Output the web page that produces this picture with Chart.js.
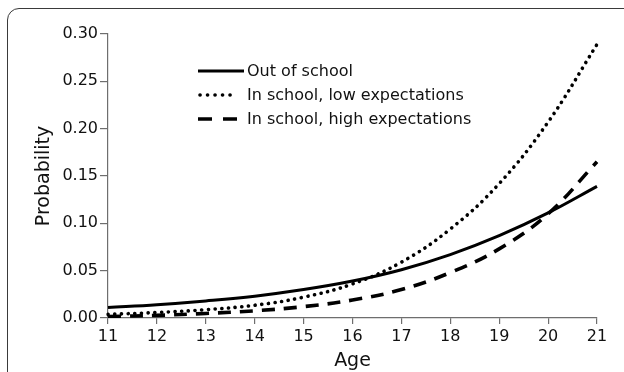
<!DOCTYPE html>
<html>
<head>
<meta charset="utf-8">
<script src="https://cdn.jsdelivr.net/npm/chart.js@4/dist/chart.umd.min.js"></script>
<style>
  html, body { margin: 0; padding: 0; background: #fff; }
  #wrap { position: relative; width: 624px; height: 372px; overflow: hidden; }
  #frame {
    position: absolute; left: 7px; top: 8px; width: 700px; height: 500px;
    border: 1.5px solid #3a3a3a; border-radius: 12px; box-sizing: border-box;
  }
  canvas { position: absolute; left: 0; top: 0; }
</style>
</head>
<body>
<div id="wrap">
  <div id="frame"></div>
  <canvas id="chart" width="624" height="372"></canvas>
</div>
<script>
// Age in years
const ages = [11, 12, 13, 14, 15, 16, 17, 18, 19, 20, 21];

// Predicted probability by group
const outOfSchool = [0.011, 0.014, 0.018, 0.023, 0.030, 0.039, 0.051, 0.067, 0.087, 0.111, 0.139];
const lowExpectations = [0.0038, 0.0058, 0.0088, 0.0135, 0.022, 0.036, 0.059, 0.094, 0.142, 0.207, 0.289];
const highExpectations = [0.0015, 0.0028, 0.0048, 0.0076, 0.012, 0.019, 0.030, 0.048, 0.073, 0.110, 0.165];

const seriesNames = ['Out of school', 'In school, low expectations', 'In school, high expectations'];
const yTicks = [0, 0.05, 0.10, 0.15, 0.20, 0.25, 0.30];

const FONT = '"DejaVu Sans", Verdana, sans-serif';
const AXIS = '#6e6e6e';

const styles = [
  { borderDash: [], borderWidth: 3, borderCapStyle: 'butt', sample: [] },
  { borderDash: [0.1, 6.6], borderWidth: 3.6, borderCapStyle: 'round', sample: [0.1, 7.4] },
  { borderDash: [13, 9], borderWidth: 3.6, borderCapStyle: 'butt', sample: [14, 11] }
];
const sampleLengths = [46, 38, 39];

function makeSet(label, data, st) {
  return {
    label, data,
    borderColor: '#000',
    backgroundColor: '#000',
    borderWidth: st.borderWidth,
    borderDash: st.borderDash,
    borderCapStyle: st.borderCapStyle,
    pointRadius: 0,
    pointHoverRadius: 0,
    tension: 0.4,
    fill: false
  };
}

// Legend drawn inside the plot area, one row per series
const innerLegend = {
  id: 'innerLegend',
  afterDatasetsDraw(chart) {
    const { ctx, chartArea } = chart;
    const x0 = chartArea.left + 90;
    const y0 = chartArea.top + 37;
    const rowH = 24;
    chart.data.datasets.forEach((ds, i) => {
      const y = y0 + i * rowH;
      ctx.save();
      ctx.strokeStyle = ds.borderColor;
      ctx.lineWidth = ds.borderWidth;
      ctx.lineCap = ds.borderCapStyle;
      ctx.setLineDash(styles[i].sample);
      ctx.beginPath();
      ctx.moveTo(x0 + (i === 1 ? 2 : 0), y);
      ctx.lineTo(x0 + sampleLengths[i], y);
      ctx.stroke();
      ctx.restore();
      ctx.save();
      ctx.fillStyle = '#111';
      ctx.font = '16px ' + FONT;
      ctx.textBaseline = 'middle';
      ctx.fillText(ds.label, x0 + 49, y + 1);
      ctx.restore();
    });
  }
};

new Chart(document.getElementById('chart'), {
  type: 'line',
  data: {
    labels: ages.map(String),
    datasets: [
      makeSet(seriesNames[0], outOfSchool, styles[0]),
      makeSet(seriesNames[1], lowExpectations, styles[1]),
      makeSet(seriesNames[2], highExpectations, styles[2])
    ]
  },
  options: {
    responsive: false,
    animation: false,
    layout: { padding: { left: 0, top: 34, right: 27, bottom: 0 } },
    plugins: { legend: { display: false }, tooltip: { enabled: false } },
    scales: {
      x: {
        type: 'category',
        offset: false,
        border: { display: true, color: AXIS, width: 1.2 },
        grid: { display: true, drawOnChartArea: false, drawTicks: true, tickLength: 6, color: AXIS, lineWidth: 1.2 },
        ticks: { color: '#111', font: { family: FONT, size: 16 }, padding: 3, maxRotation: 0, autoSkip: false },
        title: { display: true, text: 'Age', color: '#111', font: { family: FONT, size: 19 }, padding: { top: 0, bottom: 0 } },
        afterFit(scale) { scale.height = 54; }
      },
      y: {
        min: 0, max: 0.30,
        border: { display: true, color: AXIS, width: 1.2 },
        grid: { display: true, drawOnChartArea: false, drawTicks: true, tickLength: 8, color: AXIS, lineWidth: 1.2 },
        afterBuildTicks(scale) { scale.ticks = yTicks.map(v => ({ value: v })); },
        ticks: {
          color: '#111', font: { family: FONT, size: 16 }, padding: 2,
          callback: v => v.toFixed(2)
        },
        title: { display: true, text: 'Probability', color: '#111', font: { family: FONT, size: 19 }, padding: { top: 33, bottom: 0 } },
        afterFit(scale) { scale.width = 108; }
      }
    }
  },
  plugins: [innerLegend]
});
</script>
</body>
</html>
